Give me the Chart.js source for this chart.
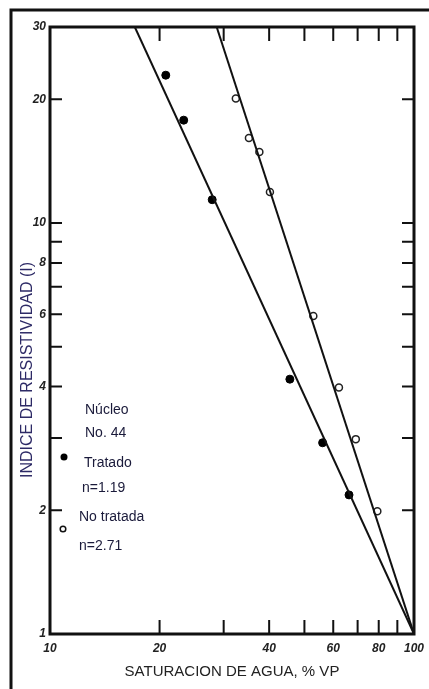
<!DOCTYPE html>
<html>
<head>
<meta charset="utf-8">
<script src="https://cdn.jsdelivr.net/npm/chart.js@4/dist/chart.umd.min.js"></script>
<style>
  html, body { margin: 0; padding: 0; background: #fff; }
  #wrap { width: 429px; height: 689px; }
</style>
</head>
<body>
<div id="wrap"><canvas id="resChart"></canvas></div>
<script>
// Data (Sw %, resistivity index I)
const tratadoSw = [20.8, 23.3, 27.9, 45.6, 56.1, 66.3];
const tratadoI = [22.9, 17.8, 11.4, 4.17, 2.92, 2.18];
const noTratadaSw = [32.4, 35.2, 37.6, 40.2, 52.9, 62.2, 69.2, 79.3];
const noTratadaI = [20.1, 16.1, 14.9, 11.9, 5.94, 3.98, 2.98, 1.99];

// Fitted lines, both ending at (100, 1)
const lineTratadoSw = [17.1, 100];
const lineTratadoI = [30, 1];
const lineNoTratadaSw = [28.7, 100];
const lineNoTratadaI = [30, 1];

// Tick marks and labels
const xTicks = [10, 20, 30, 40, 50, 60, 70, 80, 90, 100];
const xLabels = [10, 20, 40, 60, 80, 100];
const yTicks = [1, 2, 3, 4, 5, 6, 7, 8, 9, 10, 20, 30];
const yLabels = [1, 2, 4, 6, 8, 10, 20, 30];

function toPoints(xs, ys) {
  return xs.map((x, i) => ({ x: x, y: ys[i] }));
}

// inward tick marks, plot frame, outer frame, y title, legend notes
const framePlugin = {
  id: "frame",
  afterDatasetsDraw(chart) {
    const { ctx, chartArea: a, scales } = chart;
    ctx.save();
    ctx.strokeStyle = "#111";
    ctx.lineWidth = 2;
    xTicks.forEach((v) => {
      if (v === 10 || v === 100) return;
      const px = scales.x.getPixelForValue(v);
      ctx.beginPath();
      ctx.moveTo(px, a.bottom);
      ctx.lineTo(px, a.bottom - 14);
      ctx.moveTo(px, a.top);
      ctx.lineTo(px, a.top + 14);
      ctx.stroke();
    });
    yTicks.forEach((v) => {
      if (v === 1 || v === 30) return;
      const py = scales.y.getPixelForValue(v);
      ctx.beginPath();
      ctx.moveTo(a.left, py);
      ctx.lineTo(a.left + 12, py);
      ctx.moveTo(a.right, py);
      ctx.lineTo(a.right - 12, py);
      ctx.stroke();
    });
    ctx.lineWidth = 3;
    ctx.strokeRect(a.left, a.top, a.right - a.left, a.bottom - a.top);

    // outer frame of the figure
    ctx.beginPath();
    ctx.moveTo(11, 689);
    ctx.lineTo(11, 10);
    ctx.lineTo(429, 10);
    ctx.stroke();

    // y axis title, placed low as in the original
    ctx.save();
    ctx.translate(28, 370);
    ctx.rotate(-Math.PI / 2);
    ctx.fillStyle = "#2d2a66";
    ctx.font = "16px 'Liberation Sans', Arial, sans-serif";
    ctx.textAlign = "center";
    ctx.textBaseline = "middle";
    ctx.fillText("INDICE DE RESISTIVIDAD (I)", 0, 0);
    ctx.restore();

    // legend notes
    ctx.fillStyle = "#1a1a3a";
    ctx.font = "14px 'Liberation Sans', Arial, sans-serif";
    ctx.textBaseline = "middle";
    ctx.textAlign = "left";
    ctx.fillText("Núcleo", 85, 410);
    ctx.fillText("No. 44", 85, 433);
    ctx.fillText("Tratado", 84, 463);
    ctx.fillText("n=1.19", 82, 488);
    ctx.fillText("No tratada", 79, 517);
    ctx.fillText("n=2.71", 79, 546);
    ctx.fillStyle = "#000";
    ctx.beginPath();
    ctx.arc(64, 457, 3.5, 0, Math.PI * 2);
    ctx.fill();
    ctx.lineWidth = 1.5;
    ctx.beginPath();
    ctx.arc(63, 529, 2.8, 0, Math.PI * 2);
    ctx.stroke();
    ctx.restore();
  },
};

const ctx = document.getElementById("resChart").getContext("2d");
new Chart(ctx, {
  type: "scatter",
  data: {
    datasets: [
      {
        label: "Tratado line",
        data: toPoints(lineTratadoSw, lineTratadoI),
        showLine: true,
        borderColor: "#111",
        borderWidth: 2,
        pointRadius: 0,
      },
      {
        label: "No tratada line",
        data: toPoints(lineNoTratadaSw, lineNoTratadaI),
        showLine: true,
        borderColor: "#111",
        borderWidth: 2,
        pointRadius: 0,
      },
      {
        label: "Tratado",
        data: toPoints(tratadoSw, tratadoI),
        backgroundColor: "#000",
        borderColor: "#000",
        pointRadius: 4,
      },
      {
        label: "No tratada",
        data: toPoints(noTratadaSw, noTratadaI),
        backgroundColor: "#fff",
        borderColor: "#222",
        borderWidth: 1.5,
        pointRadius: 3.5,
      },
    ],
  },
  options: {
    responsive: true,
    maintainAspectRatio: false,
    animation: false,
    layout: { padding: { left: 10, top: 27, right: 15, bottom: 5 } },
    plugins: {
      legend: { display: false },
      tooltip: { enabled: false },
    },
    scales: {
      x: {
        type: "logarithmic",
        min: 10,
        max: 100,
        afterFit: (s) => { s.height = 50; s.paddingLeft = 0; s.paddingRight = 0; },
        afterBuildTicks: (s) => { s.ticks = xTicks.map((v) => ({ value: v })); },
        grid: { display: false, drawTicks: false },
        border: { display: false },
        ticks: {
          autoSkip: false,
          maxRotation: 0,
          padding: 7,
          color: "#222",
          font: { family: "'Liberation Sans', Arial, sans-serif", size: 12, style: "italic", weight: "bold" },
          callback: (v) => (xLabels.includes(v) ? String(v) : ""),
        },
        title: {
          display: true,
          text: "SATURACION DE AGUA, % VP",
          color: "#222",
          font: { family: "'Liberation Sans', Arial, sans-serif", size: 15 },
          padding: { top: 0, bottom: 3 },
        },
      },
      y: {
        type: "logarithmic",
        min: 1,
        max: 30,
        afterFit: (s) => { s.width = 40; s.paddingTop = 0; s.paddingBottom = 0; },
        afterBuildTicks: (s) => { s.ticks = yTicks.map((v) => ({ value: v })); },
        grid: { display: false, drawTicks: false },
        border: { display: false },
        ticks: {
          autoSkip: false,
          padding: 4,
          color: "#222",
          font: { family: "'Liberation Sans', Arial, sans-serif", size: 12, style: "italic", weight: "bold" },
          callback: (v) => (yLabels.includes(v) ? String(v) : ""),
        },
      },
    },
  },
  plugins: [framePlugin],
});
</script>
</body>
</html>
